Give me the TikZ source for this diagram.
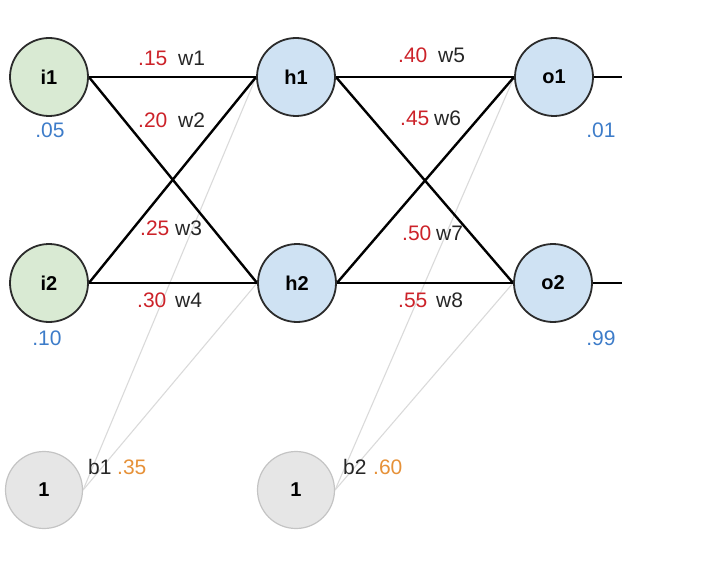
\documentclass[tikz,border=0pt]{standalone}
\usepackage{fontspec}
\setmainfont{Liberation Sans}
\usetikzlibrary{backgrounds}
\definecolor{wred}{HTML}{CC2229}
\definecolor{vblue}{HTML}{3D7CC9}
\definecolor{borange}{HTML}{E69138}
\definecolor{ingreen}{HTML}{D9EAD3}
\definecolor{nblue}{HTML}{CFE2F3}
\definecolor{bgray}{HTML}{E6E6E6}
\definecolor{bborder}{HTML}{C4C4C4}
\definecolor{glines}{HTML}{DADADA}
\definecolor{ink}{HTML}{2B2B2B}
\tikzset{
  neuron/.style={circle, minimum size=78pt, inner sep=0pt, draw=ink, line width=1.8pt,
    font=\fontsize{20}{24}\selectfont\bfseries},
  inputn/.style={neuron, fill=ingreen},
  layern/.style={neuron, fill=nblue},
  biasn/.style={circle, minimum size=77pt, inner sep=0pt, draw=bborder, line width=1.2pt,
    fill=bgray, font=\fontsize{20}{24}\selectfont\bfseries},
  weight/.style={black, line width=2.4pt},
  biasline/.style={glines, line width=1.1pt},
  lbl/.style={inner sep=0pt, anchor=west, font=\fontsize{21}{25}\selectfont},
  wval/.style={lbl, text=wred},
  wname/.style={lbl, text=black!85},
  vval/.style={inner sep=0pt, font=\fontsize{21}{25}\selectfont, text=vblue},
  bval/.style={lbl, text=borange}
}
\begin{document}
\begin{tikzpicture}[x=1pt, y=-1pt]
\useasboundingbox (0,0) rectangle (720,564);
% nodes
\node[inputn] (i1) at (49,77) {i1};
\node[inputn] (i2) at (49,283) {i2};
\node[layern] (h1) at (296,77) {h1};
\node[layern] (h2) at (297,283) {h2};
\node[layern] (o1) at (554,77) {o1};
\node[layern] (o2) at (553,283) {o2};
\node[biasn] (b1) at (44,490) {1};
\node[biasn] (b2) at (296,490) {1};
\coordinate (out1) at (622,77);
\coordinate (out2) at (622,283);
% connectors
\begin{scope}[on background layer]
\draw[biasline] (b1.east) -- (h1.west);
\draw[biasline] (b1.east) -- (h2.west);
\draw[biasline] (b2.east) -- (o1.west);
\draw[biasline] (b2.east) -- (o2.west);
\draw[weight] (i1.east) -- (h1.west);
\draw[weight] (i1.east) -- (h2.west);
\draw[weight] (i2.east) -- (h1.west);
\draw[weight] (i2.east) -- (h2.west);
\draw[weight] (h1.east) -- (o1.west);
\draw[weight] (h1.east) -- (o2.west);
\draw[weight] (h2.east) -- (o1.west);
\draw[weight] (h2.east) -- (o2.west);
\draw[weight] (o1.east) -- (out1);
\draw[weight] (o2.east) -- (out2);
\end{scope}
% weight labels
\node[wval] (l15) at (138,58) {.15};  \node[wname] (n1) at (178,58) {w1};
\node[wval] (l20) at (138,120) {.20}; \node[wname] (n2) at (178,120) {w2};
\node[wval] (l25) at (140,228) {.25}; \node[wname] (n3) at (175,228) {w3};
\node[wval] (l30) at (137,300) {.30}; \node[wname] (n4) at (175,300) {w4};
\node[wval] (l40) at (398,55) {.40};  \node[wname] (n5) at (438,55) {w5};
\node[wval] (l45) at (400,118) {.45}; \node[wname] (n6) at (434,118) {w6};
\node[wval] (l50) at (402,233) {.50}; \node[wname] (n7) at (436,233) {w7};
\node[wval] (l55) at (398,300) {.55}; \node[wname] (n8) at (436,300) {w8};
% values
\node[vval] (v1) at (50,130) {.05};
\node[vval] (v2) at (47,338) {.10};
\node[vval] (v3) at (601,130) {.01};
\node[vval] (v4) at (601,338) {.99};
% bias labels
\node[wname] (bn1) at (88,467) {b1}; \node[bval] (bv1) at (117,467) {.35};
\node[wname] (bn2) at (343,467) {b2}; \node[bval] (bv2) at (373,467) {.60};
\end{tikzpicture}
\end{document}
